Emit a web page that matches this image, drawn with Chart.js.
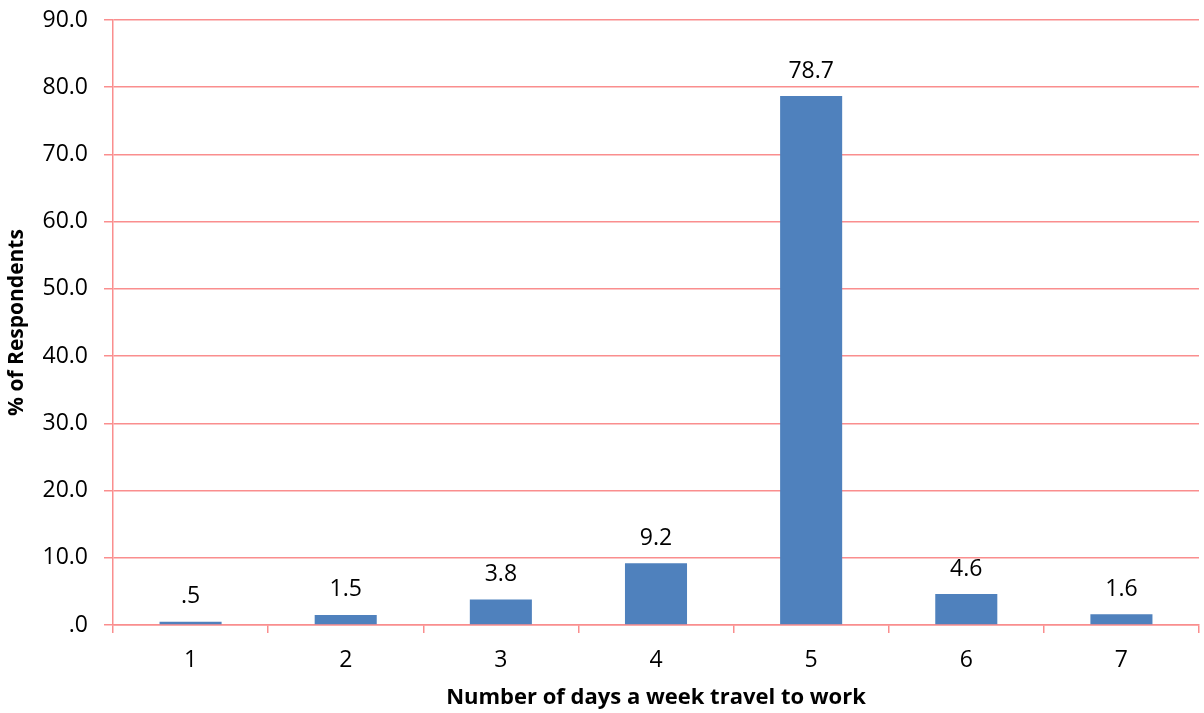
<!DOCTYPE html>
<html>
<head>
<meta charset="utf-8">
<script src="https://cdn.jsdelivr.net/npm/chart.js@4/dist/chart.umd.min.js"></script>
<style>
  html, body { margin: 0; padding: 0; background: #ffffff; }
  #wrap { width: 1204px; height: 713px; }
</style>
</head>
<body>
<div id="wrap"><canvas id="c" width="1204" height="713"></canvas></div>
<script>
// Days per week travelling to work, share of respondents (%)
const days = ['1', '2', '3', '4', '5', '6', '7'];
const respondentsPct = [0.5, 1.5, 3.8, 9.2, 78.7, 4.6, 1.6];
const yTicks = [0, 10, 20, 30, 40, 50, 60, 70, 80, 90];

const gridPink = '#FA8E8E';
const barBlue = '#4F81BD';
const fontFamily = '"Open Sans", "Liberation Sans", sans-serif';

// 78.7 -> "78.7", 0.5 -> ".5", 0 -> ".0"
const fmt = v => Number(v).toFixed(1).replace(/^0\./, '.');

const valueLabels = {
  id: 'valueLabels',
  afterDatasetsDraw(chart) {
    const ctx = chart.ctx;
    const meta = chart.getDatasetMeta(0);
    ctx.save();
    ctx.font = '23px ' + fontFamily;
    ctx.fillStyle = '#000000';
    ctx.textAlign = 'center';
    ctx.textBaseline = 'middle';
    meta.data.forEach((bar, i) => {
      ctx.fillText(fmt(respondentsPct[i]), bar.x, bar.y - 25);
    });
    ctx.restore();
  }
};

new Chart(document.getElementById('c'), {
  type: 'bar',
  data: {
    labels: days,
    datasets: [{
      data: respondentsPct,
      backgroundColor: barBlue,
      borderWidth: 0,
      barPercentage: 0.4,
      categoryPercentage: 1.0
    }]
  },
  options: {
    responsive: false,
    animation: false,
    devicePixelRatio: 1,
    layout: { padding: { top: 20, right: 5, bottom: 0, left: 0 } },
    plugins: { legend: { display: false }, tooltip: { enabled: false } },
    scales: {
      x: {
        grid: {
          offset: true,
          drawOnChartArea: false,
          drawTicks: true,
          tickLength: 8,
          color: gridPink,
          lineWidth: 1.5
        },
        border: { display: true, color: gridPink, width: 1.5 },
        ticks: {
          color: '#000000',
          font: { family: fontFamily, size: 23 },
          padding: 14
        },
        title: {
          display: true,
          text: 'Number of days a week travel to work',
          color: '#000000',
          font: { family: fontFamily, size: 22, weight: 'bold' },
          padding: { top: 2, bottom: 2 }
        },
        afterFit(scale) {
          scale.height = 88;
          scale.paddingLeft = 0;
          scale.paddingRight = 0;
        }
      },
      y: {
        min: 0,
        max: 90,
        afterBuildTicks(scale) { scale.ticks = yTicks.map(v => ({ value: v })); },
        grid: {
          drawTicks: true,
          tickLength: 9,
          color: gridPink,
          lineWidth: 1.5
        },
        border: { display: true, color: gridPink, width: 1.5 },
        ticks: {
          color: '#000000',
          font: { family: fontFamily, size: 23 },
          padding: 16,
          callback: v => fmt(v)
        },
        title: {
          display: true,
          text: '% of Respondents',
          color: '#000000',
          font: { family: fontFamily, size: 21, weight: 'bold' },
          padding: { top: 4, bottom: 4 }
        },
        afterFit(scale) {
          scale.width = 113;
          scale.paddingTop = 0;
          scale.paddingBottom = 0;
        }
      }
    }
  },
  plugins: [valueLabels]
});
</script>
</body>
</html>
